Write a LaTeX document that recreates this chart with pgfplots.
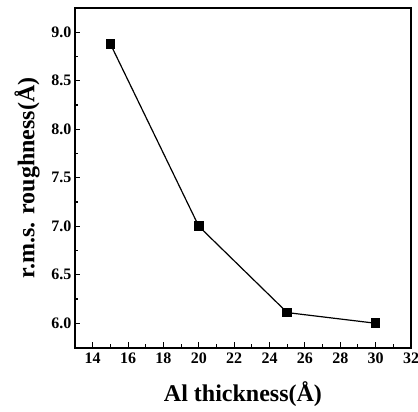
\documentclass[border=0pt]{standalone}
\usepackage{pgfplots}
\pgfplotsset{compat=1.18}
\usepackage{fontspec}
\setmainfont{Liberation Serif}
\begin{document}
\begin{tikzpicture}
\begin{axis}[
  scale only axis,
  width=336pt, height=340pt,
  xmin=13, xmax=32, ymin=5.745, ymax=9.25,
  xtick={14,16,...,32},
  ytick={6.0,6.5,...,9.0},
  minor x tick num=1, minor y tick num=1,
  tick align=inside,
  major tick length=5.5pt, minor tick length=3.5pt,
  xtick pos=bottom, ytick pos=left,
  axis line style={line width=1.4pt},
  every tick/.style={line width=1.1pt, black},
  /pgf/number format/assume math mode=true,
  yticklabel style={/pgf/number format/.cd, fixed, fixed zerofill, precision=1},
  tick label style={font=\fontsize{16}{16}\selectfont\bfseries},
  xticklabel style={yshift=-1pt},
  xlabel={Al thickness(Å)},
  ylabel={r.m.s. roughness(Å)},
  label style={font=\fontsize{24}{24}\selectfont\bfseries},
  xlabel style={at={([yshift=-46pt]axis description cs:0.5,0)}, anchor=center},
  ylabel style={at={([xshift=-48pt]axis description cs:0,0.5)}, anchor=center},
]
\addplot[black, line width=1.2pt, mark=square*, mark size=4.2pt] coordinates {
  (15,8.88) (20,7.0) (25,6.11) (30,6.0)
};
\end{axis}
\pgfresetboundingbox
\path (current axis.south west) ++(-75pt,-64pt) rectangle ([shift={(7pt,8pt)}]current axis.north east);
\end{tikzpicture}
\end{document}
